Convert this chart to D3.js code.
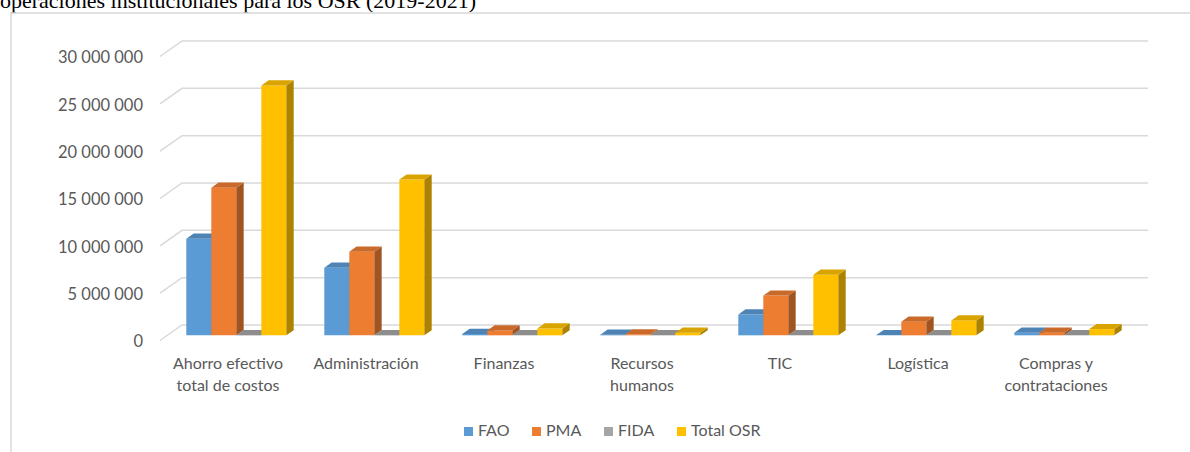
<!DOCTYPE html>
<html>
<head>
<meta charset="utf-8">
<script src="https://cdn.jsdelivr.net/npm/d3@7"></script>
<style>
  body { margin: 0; background: #fff; }
  svg { display: block; }
</style>
</head>
<body>
<svg id="chart" width="1190" height="452"></svg>
<script>
// categories and their label lines
const categories = ['Ahorro efectivo total de costos', 'Administración', 'Finanzas', 'Recursos humanos', 'TIC', 'Logística', 'Compras y contrataciones'];
const catLines = [['Ahorro efectivo', 'total de costos'], ['Administración'], ['Finanzas'], ['Recursos', 'humanos'], ['TIC'], ['Logística'], ['Compras y', 'contrataciones']];

const seriesNames = ['FAO', 'PMA', 'FIDA', 'Total OSR'];
const fao = [10200000, 7150000, 150000, 70000, 2200000, 30000, 280000];
const pma = [15600000, 8830000, 520000, 110000, 4200000, 1440000, 280000];
const fida = [20000, 20000, 10000, 10000, 10000, 10000, 10000];
const totalOsr = [26400000, 16450000, 720000, 280000, 6400000, 1580000, 660000];
const yTicks = [0, 5000000, 10000000, 15000000, 20000000, 25000000, 30000000];

const colors = ['#5B9BD5', '#ED7D31', '#A5A5A5', '#FFC000'];
const values = [fao, pma, fida, totalOsr];

const sans = 'Lato, "Open Sans", sans-serif';
const svg = d3.select('#chart');

// depth offsets of the 3d box (full depth)
const DX = 22, DY = 15.5;
const Z0 = 1 / 3, Z1 = 2 / 3;

// title fragment cut by the page
svg.append('text')
    .attr('x', 0)
    .attr('y', 7.5)
    .style('font-family', '"Liberation Serif", "Times New Roman", serif')
    .style('font-size', '22px')
    .attr('fill', '#000')
    .text('operaciones institucionales para los OSR (2019-2021)');

// chart frame
svg.append('rect')
    .attr('x', 11)
    .attr('y', 13)
    .attr('width', 1200)
    .attr('height', 460)
    .attr('fill', 'none')
    .attr('stroke', '#d9d9d9')
    .attr('stroke-width', 1.5);

const x = d3.scaleBand()
    .domain(categories)
    .range([160, 1126])
    .paddingInner(0.275)
    .paddingOuter(0.1375);

const xs = d3.scaleBand()
    .domain(seriesNames)
    .range([0, x.bandwidth()]);

const y = d3.scaleLinear()
    .domain([0, 30000000])
    .range([340.5, 56.5]);

// project a front-plane point to given depth
const proj = (px, py, z) => [px + z * DX, py - z * DY];

// gridlines: side wall diagonal + back wall line
const grid = svg.append('g');
yTicks.forEach(t => {
    const yf = y(t);
    const b = proj(160, yf, 1);
    grid.append('path')
        .attr('d', `M160,${yf}L${b[0]},${b[1]}L${1126 + DX},${b[1]}`)
        .attr('fill', 'none')
        .attr('stroke', '#d9d9d9')
        .attr('stroke-width', 1.5);
});

// y axis labels
const loc = d3.formatLocale({ decimal: ',', thousands: ' ', grouping: [3], currency: ['', ''] });
const yAxis = d3.axisLeft(y)
    .tickValues(yTicks)
    .tickFormat(loc.format(',d'))
    .tickSize(0)
    .tickPadding(17);

const gy = svg.append('g')
    .attr('transform', 'translate(160,1)')
    .call(yAxis);
gy.select('.domain').remove();
gy.selectAll('text')
    .style('font-family', sans)
    .style('font-size', '16.5px')
    .attr('fill', '#595959');

// 3d bars
const bars = svg.append('g');
categories.forEach((c, ci) => {
    seriesNames.forEach((s, si) => {
        const v = values[si][ci];
        const x0 = x(c) + xs(s);
        const x1 = x0 + xs.bandwidth();
        const yb = y(0), yt = y(v);
        const col = d3.color(colors[si]);

        const fa = proj(x0, yt, Z0), fb = proj(x1, yt, Z0), fc = proj(x1, yb, Z0), fd = proj(x0, yb, Z0);
        const ta = proj(x0, yt, Z1), tb = proj(x1, yt, Z1), tc = proj(x1, yb, Z1);

        // front face
        bars.append('path')
            .attr('d', `M${fa}L${fb}L${fc}L${fd}Z`)
            .attr('fill', col.formatHex());
        // side face
        bars.append('path')
            .attr('d', `M${fb}L${tb}L${tc}L${fc}Z`)
            .attr('fill', col.darker(1.1).formatHex());
        // top face
        bars.append('path')
            .attr('d', `M${fa}L${ta}L${tb}L${fb}Z`)
            .attr('fill', col.darker(0.45).formatHex());
    });
});

// category labels
const gx = svg.append('g');
categories.forEach((c, ci) => {
    const cx = x(c) + x.bandwidth() / 2 - 1;
    const t = gx.append('text')
        .attr('x', cx)
        .attr('y', 369)
        .attr('text-anchor', 'middle')
        .style('font-family', sans)
        .style('font-size', '16px')
        .attr('fill', '#595959');
    catLines[ci].forEach((line, li) => {
        t.append('tspan')
            .attr('x', cx)
            .attr('dy', li === 0 ? 0 : 22)
            .text(line);
    });
});

// legend, laid out from text widths
const legend = svg.append('g');
const items = legend.selectAll('g')
    .data(seriesNames)
    .join('g');

items.append('rect')
    .attr('y', -9)
    .attr('width', 9)
    .attr('height', 9)
    .attr('fill', (d, i) => colors[i]);

items.append('text')
    .attr('x', 14)
    .style('font-family', sans)
    .style('font-size', '16px')
    .attr('fill', '#595959')
    .text(d => d);

let lx = 0;
items.attr('transform', (d, i, g) => {
    const w = Math.ceil(g[i].getBBox().width);
    const pos = lx;
    lx += w + 22;
    return `translate(${pos},0)`;
});
const legendW = lx - 22;
legend.attr('transform', `translate(${Math.round(612 - legendW / 2)},436)`);
</script>
</body>
</html>
